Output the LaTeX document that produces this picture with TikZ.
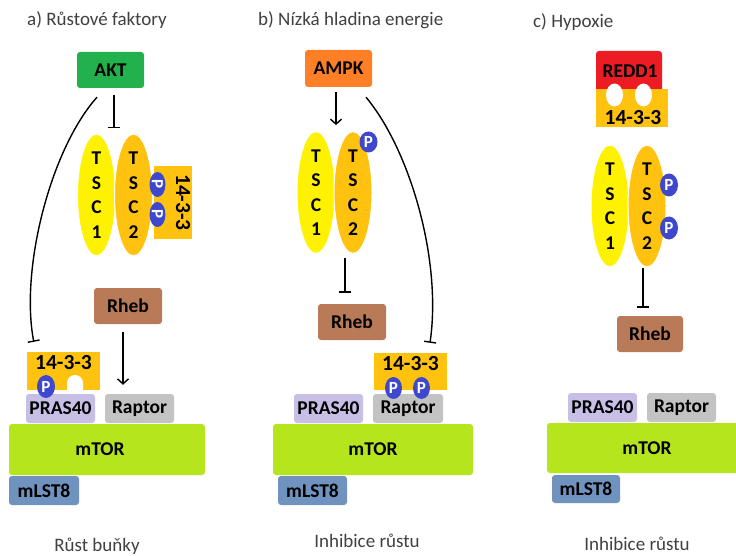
\documentclass[tikz,border=0pt]{standalone}
\usepackage{fontspec}
\setmainfont{Carlito}
\usetikzlibrary{arrows.meta,shapes.geometric}
\definecolor{aktgreen}{HTML}{22B14C}
\definecolor{ampkorange}{HTML}{FF7F27}
\definecolor{reddred}{HTML}{ED1C24}
\definecolor{tscone}{HTML}{FFF200}
\definecolor{tsctwo}{HTML}{FFC20E}
\definecolor{pblue}{HTML}{3F48CC}
\definecolor{rhebbrown}{HTML}{B97A57}
\definecolor{praslav}{HTML}{C8BFE7}
\definecolor{raptorgray}{HTML}{C3C3C3}
\definecolor{mtorlime}{HTML}{B5E61D}
\definecolor{lstblue}{HTML}{7092BE}
\definecolor{txtgray}{HTML}{404040}
\newcommand{\lblfont}{\bfseries\fontsize{19.5}{21}\selectfont}
\newcommand{\qfont}{\bfseries\fontsize{21.5}{23}\selectfont}
\begin{document}
\begin{tikzpicture}[x=1pt,y=-1pt,
  box/.style={rectangle, rounded corners=3pt, inner sep=0pt, font=\lblfont},
  sqbox/.style={rectangle, inner sep=0pt, fill=tsctwo},
  tsc/.style={ellipse, draw=white, line width=1pt, minimum width=38pt, minimum height=121pt, inner sep=0pt, align=center, font=\bfseries\fontsize{19.5}{24.5}\selectfont},
  pdot/.style={ellipse, fill=pblue, text=white, inner sep=0pt, font=\bfseries\fontsize{17}{17}\selectfont},
  hole/.style={ellipse, fill=white, inner sep=0pt, minimum width=17pt, minimum height=23pt},
  qlbl/.style={inner sep=0pt, font=\qfont},
  lbl/.style={inner sep=0pt, font=\lblfont},
  inh/.style={line width=1.4pt, -{Bar[width=12pt, line width=1.4pt]}},
  act/.style={line width=1.4pt, -{Straight Barb[length=5pt, width=11pt, line width=1.4pt]}},
  ttl/.style={inner sep=0pt, anchor=base west, text=txtgray, font=\fontsize{19}{21}\selectfont},
  foot/.style={inner sep=0pt, anchor=base, text=txtgray, font=\fontsize{19}{21}\selectfont}]
\useasboundingbox (0,0) rectangle (736,556);
\fill[white] (0,0) rectangle (736,556);

% ---------------- panel a ----------------
\node[ttl] (ta) at (27,26) {a) Růstové faktory};
\node[box, fill=aktgreen, minimum width=67pt, minimum height=36pt] (akt) at (110.5,70) {AKT};
\node[tsc, fill=tscone] (atsc1) at (96.5,195) {T\\S\\C\\1};
\node[tsc, fill=tsctwo] (atsc2) at (133.5,195) {T\\S\\C\\2};
\node[sqbox, minimum width=38pt, minimum height=73pt] (a1433v) at (173,202.5) {};
\node[qlbl, rotate=-90] (a1433vt) at (183,202.5) {14-3-3};
\node[pdot, minimum width=25pt, minimum height=16pt, rotate=-90] (ap1) at (157.5,184.5) {P};
\node[pdot, minimum width=25pt, minimum height=16pt, rotate=-90] (ap2) at (157.5,214.5) {P};
\node[box, fill=rhebbrown, minimum width=68pt, minimum height=36pt] (arheb) at (128,306) {Rheb};
\node[sqbox, minimum width=73pt, minimum height=38pt] (a1433) at (63.5,371) {};
\node[qlbl] (a1433t) at (63.5,363) {14-3-3};
\fill[white] (67,391) -- (67,383) arc[start angle=180, end angle=360, radius=8] -- (83,391) -- cycle;
\node[box, fill=praslav, minimum width=69pt, minimum height=29pt] (apras) at (60.5,408.5) {PRAS40};
\node[box, fill=raptorgray, minimum width=69pt, minimum height=29pt] (araptor) at (139.5,408.5) {Raptor};
\node[pdot, minimum width=18pt, minimum height=23pt] (ap3) at (46,386.5) {P};
\node[box, fill=mtorlime, minimum width=196pt, minimum height=51pt] (amtor) at (107,449.5) {mTOR\hspace*{14pt}};
\node[box, fill=lstblue, minimum width=70pt, minimum height=29pt] (alst) at (44,490.5) {mLST8};
\node[foot] (fa) at (97,551) {Růst buňky};

\draw[inh] ([xshift=3.5pt,yshift=-7pt]akt.south) -- ([xshift=3.5pt,yshift=-40pt]akt.south);
\draw[inh] ([xshift=-13.5pt,yshift=-9pt]akt.south) .. controls (50,150) and (20,270) .. ([xshift=7pt,yshift=10pt]a1433.north west);
\draw[act] ([xshift=-5pt,yshift=-8pt]arheb.south) -- ([xshift=-16.5pt,yshift=9pt]araptor.north);

% ---------------- panel b ----------------
\node[ttl] (tb) at (258,26) {b) Nízká hladina energie};
\node[box, fill=ampkorange, minimum width=67pt, minimum height=37pt] (ampk) at (338.5,68.5) {AMPK};
\node[tsc, fill=tscone] (btsc1) at (316,192.5) {T\\S\\C\\1};
\node[tsc, fill=tsctwo] (btsc2) at (353,192.5) {T\\S\\C\\2};
\node[pdot, minimum width=18pt, minimum height=21pt] (bp1) at (368.5,142) {P};
\node[box, fill=rhebbrown, minimum width=68pt, minimum height=36pt] (brheb) at (352,322) {Rheb};
\node[sqbox, minimum width=73pt, minimum height=37pt] (b1433) at (410.5,371.5) {};
\node[qlbl] (b1433t) at (410.5,364) {14-3-3};
\node[box, fill=praslav, minimum width=69pt, minimum height=29pt] (bpras) at (328.5,408.5) {PRAS40};
\node[box, fill=raptorgray, minimum width=70pt, minimum height=29pt] (braptor) at (408,408.5) {\raisebox{-3pt}{Raptor}};
\node[pdot, minimum width=17pt, minimum height=22pt] (bp2) at (393.5,388) {P};
\node[pdot, minimum width=17pt, minimum height=22pt] (bp3) at (421.5,388) {P};
\node[box, fill=mtorlime, minimum width=200pt, minimum height=51pt] (bmtor) at (373,449.5) {mTOR};
\node[box, fill=lstblue, minimum width=69pt, minimum height=29pt] (blst) at (312.5,490.5) {mLST8};
\node[foot] (fb) at (367,547) {Inhibice růstu};

\draw[act] ([xshift=-2.5pt,yshift=-5pt]ampk.south) -- ([xshift=-17pt,yshift=6pt]btsc2.north);
\draw[inh] ([xshift=27.5pt,yshift=-10pt]ampk.south) .. controls (410,150) and (442,260) .. ([xshift=19.5pt,yshift=10pt]b1433.north);
\draw[inh] ([xshift=-8pt,yshift=-4pt]btsc2.south) -- ([xshift=-7pt,yshift=11pt]brheb.north);

% ---------------- panel c ----------------
\node[ttl] (tc) at (533,28) {c) Hypoxie};
\node[box, fill=reddred, minimum width=66pt, minimum height=42pt] (redd) at (629,72) {};
\node[lbl] (reddt) at (630,71) {REDD1};
\node[sqbox, minimum width=72pt, minimum height=38pt] (c1433) at (632,108) {};
\node[qlbl] (c1433t) at (633,118) {14-3-3};
\node[hole] (ch1) at (614.5,95) {};
\node[hole] (ch2) at (643.5,95) {};
\node[tsc, fill=tscone] (ctsc1) at (610,206) {T\\S\\C\\1};
\node[tsc, fill=tsctwo] (ctsc2) at (647,206) {T\\S\\C\\2};
\node[pdot, minimum width=18pt, minimum height=23pt] (cp1) at (669,185) {P};
\node[pdot, minimum width=18pt, minimum height=23pt] (cp2) at (669,228) {P};
\node[box, fill=rhebbrown, minimum width=66pt, minimum height=36pt] (crheb) at (650,334) {Rheb};
\node[box, fill=praslav, minimum width=69pt, minimum height=29pt] (cpras) at (602.5,407.5) {PRAS40};
\node[box, fill=raptorgray, minimum width=69pt, minimum height=29pt] (craptor) at (681.5,407.5) {Raptor};
\node[box, fill=mtorlime, minimum width=200pt, minimum height=50pt] (cmtor) at (647,448) {mTOR};
\node[box, fill=lstblue, minimum width=68pt, minimum height=28pt] (clst) at (586,489) {mLST8};
\node[foot] (fc) at (637,550) {Inhibice růstu};

\draw[inh] ([xshift=-4pt,yshift=-1pt]ctsc2.south) -- ([xshift=-7pt,yshift=8pt]crheb.north);
\end{tikzpicture}
\end{document}
